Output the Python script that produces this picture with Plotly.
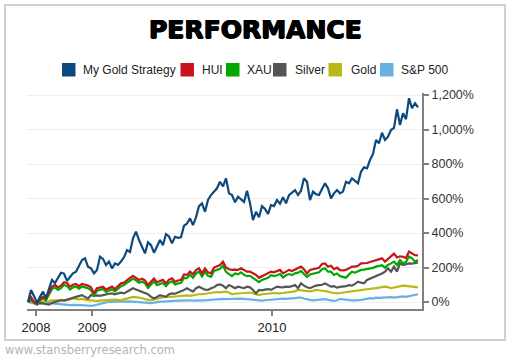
import plotly.graph_objects as go

# ---------------- data (weekly points, % performance) ----------------
series_names = ["My Gold Strategy", "HUI", "XAU", "Silver", "Gold", "S&P 500"]
series_colors = ["#0c4a7e", "#c8141a", "#00a800", "#555555", "#b7b914", "#6aafe2"]

my_gold_strategy = [
    0, 70, 35, -5, 30, 60, 23, 80, 128, 110,
    140, 170, 165, 122, 145, 166, 176, 210, 243, 253,
    205, 195, 166, 186, 263, 250, 214, 234, 195, 224,
    215, 235, 259, 301, 290, 369, 408, 359, 320, 282,
    346, 330, 286, 320, 359, 330, 394, 380, 340, 378,
    372, 375, 442, 455, 485, 446, 491, 556, 572, 523,
    591, 620, 640, 659, 697, 670, 717, 630, 620, 578,
    610, 595, 580, 645, 572, 475, 523, 491, 556, 540,
    510, 562, 556, 591, 570, 607, 572, 620, 635, 649,
    620, 645, 717, 697, 591, 640, 625, 620, 655, 688,
    659, 601, 630, 649, 630, 640, 697, 688, 717, 700,
    688, 755, 781, 775, 823, 858, 939, 920, 981, 939,
    958, 997, 1010, 1117, 1026, 1094, 1060, 1181, 1123, 1152,
    1129,
]
hui = [
    0, 30, 0, -10, 20, 30, 20, 60, 90, 100,
    85, 95, 115, 110, 89, 100, 105, 92, 105, 100,
    95, 85, 50, 80, 85, 89, 72, 80, 89, 75,
    90, 108, 112, 128, 140, 152, 140, 128, 135, 125,
    98, 120, 137, 115, 120, 128, 108, 130, 137, 118,
    125, 128, 160, 157, 176, 160, 185, 195, 166, 195,
    172, 166, 200, 208, 214, 234, 200, 190, 186, 188,
    186, 195, 185, 176, 176, 165, 157, 140, 150, 157,
    165, 176, 172, 180, 186, 166, 178, 186, 180, 190,
    195, 205, 190, 166, 186, 190, 195, 198, 220, 224,
    205, 210, 190, 199, 185, 183, 186, 195, 205, 205,
    210, 224, 224, 226, 232, 238, 243, 248, 253, 234,
    250, 263, 280, 258, 265, 262, 255, 292, 282, 272,
    270,
]
xau = [
    0, 20, -5, -15, 10, 20, 10, 45, 75, 85,
    70, 80, 100, 92, 72, 85, 90, 78, 90, 85,
    80, 70, 38, 65, 70, 75, 58, 66, 74, 62,
    75, 92, 98, 112, 124, 136, 125, 112, 118, 108,
    82, 104, 120, 98, 102, 110, 92, 112, 120, 102,
    108, 110, 140, 138, 158, 140, 165, 176, 148, 175,
    152, 146, 180, 186, 192, 212, 175, 162, 150, 165,
    160, 172, 158, 150, 152, 140, 130, 115, 128, 135,
    140, 155, 150, 155, 162, 142, 155, 162, 156, 166,
    170, 180, 165, 145, 160, 165, 168, 172, 190, 195,
    176, 176, 157, 165, 150, 147, 141, 160, 176, 170,
    178, 186, 188, 191, 195, 198, 205, 210, 214, 199,
    215, 224, 234, 214, 243, 224, 232, 263, 253, 234,
    243,
]
silver = [
    0, 10, 0, -10, -5, -8, -12, -15, -5, 0,
    5, 10, 8, 15, 20, 25, 30, 35, 40, 30,
    20, 40, 35, 38, 36, 40, 45, 48, 50, 45,
    50, 54, 50, 60, 70, 80, 72, 65, 60, 55,
    45, 30, 20, 30, 40, 35, 30, 45, 50, 48,
    55, 60, 70, 80, 70, 60, 80, 89, 80, 72,
    70, 80, 85, 98, 102, 95, 80, 98, 90, 80,
    89, 85, 80, 89, 85, 70, 50, 70, 68, 72,
    75, 70, 80, 89, 86, 85, 89, 88, 92, 98,
    80, 108, 95, 85, 80, 90, 95, 98, 100, 108,
    98, 89, 92, 83, 88, 89, 92, 98, 95, 105,
    118, 112, 108, 128, 135, 141, 150, 157, 165, 176,
    195, 176, 205, 176, 224, 214, 218, 224, 222, 224,
    230,
]
gold = [
    0, 5, 0, -5, 0, 2, 0, 5, 10, 8,
    10, 12, 10, 10, 15, 20, 18, 15, 18, 12,
    10, 10, 8, 5, 8, 10, 10, 12, 15, 14,
    12, 10, 15, 20, 25, 30, 28, 26, 22, 17,
    12, 10, 15, 20, 22, 28, 30, 28, 30, 32,
    34, 36, 40, 38, 36, 40, 42, 45, 45, 48,
    50, 52, 55, 58, 56, 58, 60, 55, 45, 48,
    50, 52, 55, 56, 55, 50, 45, 40, 45, 48,
    50, 50, 52, 50, 50, 52, 54, 55, 58, 62,
    70, 68, 65, 60, 62, 65, 70, 68, 66, 62,
    60, 55, 52, 50, 52, 55, 56, 58, 60, 64,
    66, 70, 72, 74, 75, 76, 80, 83, 86, 89,
    86, 80, 84, 89, 92, 95, 94, 92, 90, 88,
    85,
]
sp500 = [
    0, -5, -10, -12, -10, -8, -8, -6, -8, -10,
    -12, -14, -15, -17, -18, -17, -16, -17, -18, -20,
    -22, -23, -20, -15, -10, -5, -2, 0, 2, 0,
    2, 2, 0, 2, 4, 2, 0, 2, 0, -4,
    -8, -6, -4, 0, 2, 2, 4, 2, 4, 6,
    8, 8, 10, 12, 10, 8, 10, 12, 10, 10,
    12, 12, 14, 15, 17, 18, 17, 18, 20, 20,
    20, 20, 18, 16, 14, 12, 10, 10, 8, 10,
    12, 14, 15, 18, 20, 20, 18, 18, 20, 22,
    25, 25, 20, 15, 12, 10, 12, 15, 17, 17,
    12, 8, 6, 10, 17, 15, 12, 10, 10, 10,
    10, 12, 15, 20, 22, 20, 25, 24, 25, 28,
    30, 28, 25, 28, 30, 32, 30, 34, 36, 40,
    45,
]
all_series = [my_gold_strategy, hui, xau, silver, gold, sp500]

week_index = list(range(len(my_gold_strategy)))
x_tick_positions = [2.67, 21.33, 81.33]
x_tick_labels = ["2008", "2009", "2010"]
y_tick_values = [0, 200, 400, 600, 800, 1000, 1200]
y_tick_labels = ["0%", "200%", "400%", "600%", "800%", "1,000%", "1,200%"]

# ---------------- layout geometry (pixels) ----------------
WIDTH, HEIGHT = 510, 358
L, R, T, B = 27, 422, 93, 309
PW, PH = R - L, B - T


def px(xp):
    return (xp - L) / PW


def py(yp):
    return (B - yp) / PH


fig = go.Figure()

# draw order: S&P first, strategy on top
for idx in reversed(range(len(series_names))):
    fig.add_trace(go.Scatter(
        x=week_index, y=all_series[idx], mode="lines",
        name=series_names[idx],
        line=dict(color=series_colors[idx], width=2.2),
        showlegend=False, hoverinfo="skip",
    ))

shapes = []
annotations = []

# outer frame
shapes.append(dict(type="rect", xref="paper", yref="paper",
                   x0=px(5), x1=px(505), y0=py(340), y1=py(5),
                   line=dict(color="#d0d0d0", width=2), layer="below"))

# custom legend (square swatches)
legend_box_left = [62, 180.5, 226, 273, 328.5, 380]
legend_text_left = [81, 199.5, 244.5, 292.5, 348.5, 399]
for i, name in enumerate(series_names):
    shapes.append(dict(type="rect", xref="paper", yref="paper",
                       x0=px(legend_box_left[i]), x1=px(legend_box_left[i] + 13.5),
                       y0=py(76.5), y1=py(63),
                       fillcolor=series_colors[i], line=dict(width=0)))
    annotations.append(dict(text=name, xref="paper", yref="paper",
                            x=px(legend_text_left[i]), y=py(69.5),
                            xanchor="left", yanchor="middle", showarrow=False,
                            font=dict(family="Liberation Sans", size=12, color="#222222")))

# title (extra-heavy look via a tight shadow)
annotations.append(dict(text="PERFORMANCE", xref="paper", yref="paper",
                        x=px(255.5), y=py(30), xanchor="center", yanchor="middle",
                        showarrow=False,
                        font=dict(family="DejaVu Sans", size=25, color="#000000",
                                  weight="bold",
                                  shadow="0.7px 0px 0px #000, -0.7px 0px 0px #000, 0px 0.5px 0px #000")))

# watermark
annotations.append(dict(text="www.stansberryresearch.com", xref="paper", yref="paper",
                        x=px(3), y=py(350), xanchor="left", yanchor="middle",
                        showarrow=False,
                        font=dict(family="DejaVu Sans", size=11.5, color="#b4b4b4")))

x_min = (L - 28) / 3
x_max = (R - 28) / 3
y_min = (302 - B) / 0.1725
y_max = (302 - T) / 0.1725

fig.update_layout(
    width=WIDTH, height=HEIGHT,
    margin=dict(l=L, r=WIDTH - R, t=T, b=HEIGHT - B, pad=0),
    paper_bgcolor="white", plot_bgcolor="white",
    showlegend=False,
    shapes=shapes, annotations=annotations,
    xaxis=dict(range=[x_min, x_max], tickvals=x_tick_positions, ticktext=x_tick_labels,
               showgrid=False, zeroline=False, showline=True, linecolor="#808080",
               linewidth=2, ticks="outside", ticklen=5, tickwidth=1.5, tickcolor="#808080",
               tickfont=dict(family="Liberation Sans", size=13, color="#222222"),
               fixedrange=True),
    yaxis=dict(range=[y_min, y_max], side="right", tickvals=y_tick_values,
               ticktext=y_tick_labels, showgrid=True, gridcolor="#eeeeee", gridwidth=1,
               zeroline=False, showline=True, linecolor="#808080", linewidth=2,
               ticks="outside", ticklen=5, tickwidth=1.5, tickcolor="#808080",
               tickfont=dict(family="Liberation Sans", size=12.5, color="#333333"),
               fixedrange=True),
)

fig.write_html("out.html", config={"displayModeBar": False},
               post_script="document.body.style.margin='0px';document.body.style.overflow='hidden';")
